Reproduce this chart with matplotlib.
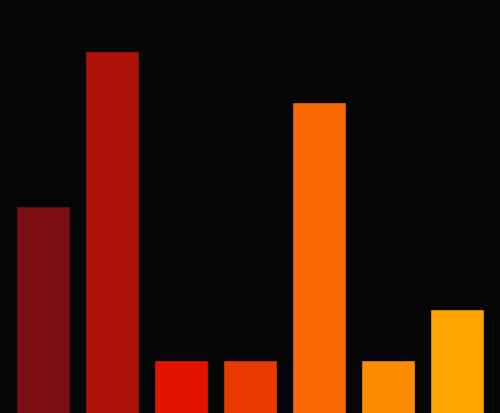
import matplotlib
matplotlib.use("Agg")
import matplotlib.pyplot as plt

# Bar data
categories = ["A", "B", "C", "D", "E", "F", "G"]
values = [4, 7, 1, 1, 6, 1, 2]
colors = ["#7a0e12", "#ad1008", "#e41300", "#ea3a00", "#f96800", "#ff8c00", "#ffa300"]
edges = ["#740d10", "#a50f08", "#d81200", "#dc3600", "#ea6200", "#f08400", "#f29b00"]

bg = "#050507"
fig = plt.figure(figsize=(5.0, 4.14), dpi=100, facecolor=bg)
ax = fig.add_axes([0, 0, 1, 1], facecolor=bg)

x = range(len(categories))
ax.bar(x, values, width=0.745, color=colors, edgecolor=edges, linewidth=0.5)

ax.set_xlim(-0.623, len(categories) - 1 + 0.623)
ax.set_ylim(0, 8.02)
ax.axis("off")

fig.savefig("out.png", dpi=100, facecolor=bg)
